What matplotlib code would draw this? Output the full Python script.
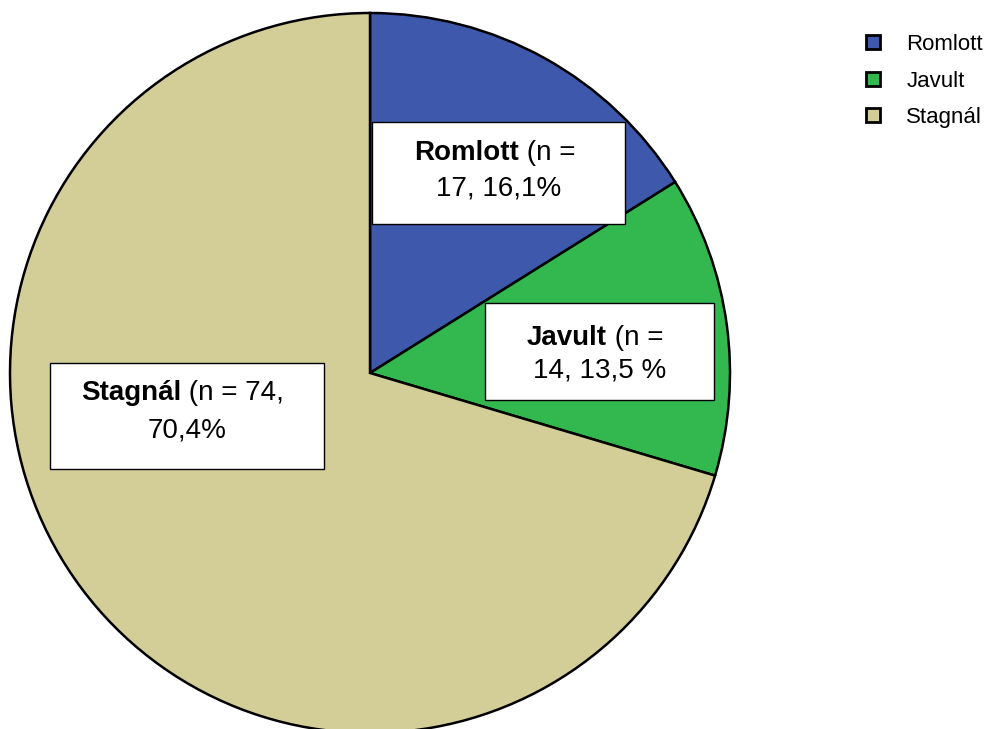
import matplotlib.pyplot as plt
from matplotlib.patches import Rectangle

plt.rcParams['font.family'] = ['Liberation Sans', 'DejaVu Sans']

# group sizes and shares (percent) of the three outcome groups
groups = ["Romlott", "Javult", "Stagnál"]
counts = [17, 14, 74]
shares = [16.1, 13.5, 70.4]
share_text = ["16,1%", "13,5 %", "70,4%"]
colors = ["#3e58ab", "#33b84f", "#d3ce98"]

W, H = 995, 729
fig = plt.figure(figsize=(W / 100, H / 100), dpi=100)
ax = fig.add_axes([0, 0, 1, 1])

wedges, _ = ax.pie(shares, colors=colors, startangle=90, counterclock=False,
                   center=(370, H - 373), radius=360,
                   wedgeprops=dict(edgecolor="black", linewidth=1.8))
ax.set_xlim(0, W)
ax.set_ylim(0, H)
ax.set_aspect("equal")
ax.axis("off")

# label boxes: (left, top, right, bottom) in pixels, first-line start x, baselines
boxes = [(372, 122, 625, 224, 414, 160, 195),
         (485, 303, 714, 400, 527, 345, 377),
         (50, 363, 324, 469, 81, 400, 437)]
tails = [" (n =", " (n =", " (n = 74,"]
line2 = ["%d, %s" % (counts[0], share_text[0]),
         "%d, %s" % (counts[1], share_text[1]),
         share_text[2]]

for g, (l, t, r, b, x0, y1, y2), tail, second in zip(groups, boxes, tails, line2):
    ax.add_patch(Rectangle((l, H - b), r - l, b - t, facecolor="white",
                           edgecolor="black", linewidth=1.0, zorder=3))
    head = ax.text(x0, H - y1, g, fontsize=20, fontweight="bold",
                   ha="left", va="baseline", zorder=4)
    ax.annotate(tail, xy=(1, 0), xycoords=head, fontsize=20,
                ha="left", va="bottom", zorder=4)
    ax.text((l + r) / 2, H - y2, second, fontsize=20,
            ha="center", va="baseline", zorder=4)

leg = fig.legend(wedges, groups, loc="upper left",
                 bbox_to_anchor=(846 / W, 1 - 14 / H),
                 frameon=False, fontsize=16, handlelength=0.62, handleheight=0.62,
                 handletextpad=1.2, labelspacing=0.7)
for h in leg.legend_handles:
    h.set_edgecolor("black")
    h.set_linewidth(2)

fig.savefig("out.png", dpi=100)
